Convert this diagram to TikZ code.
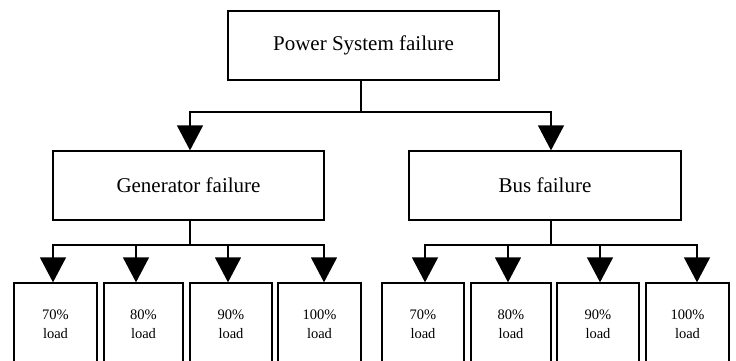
\documentclass[tikz,border=0pt]{standalone}
\usepackage{fontspec}
\setmainfont{Liberation Serif}
\usetikzlibrary{arrows.meta}

\tikzset{
  wire/.style={line width=1.3pt},
  feed/.style={wire, -{Triangle[width=26pt,length=25pt]}},
  bigbox/.style={draw, line width=1.3pt, minimum width=271pt, minimum height=69pt,
    inner sep=0pt, font=\fontsize{21}{25}\selectfont},
  loadbox/.style={draw, line width=1.3pt, minimum height=82pt, inner sep=0pt,
    align=center, font=\fontsize{14.5}{18.5}\selectfont},
}

\begin{document}
\begin{tikzpicture}[x=1pt, y=-1pt]
  \useasboundingbox (0,0) rectangle (736,360);
  \clip (0,0) rectangle (736,360);

  % upper levels
  \node[bigbox] (top) at (363.5,45.5) {Power System failure};
  \node[bigbox] (gen) at (188.5,185.5) {Generator failure};
  \node[bigbox, minimum width=272pt] (bus) at (545,185.5) {Bus failure};

  % load cases under the generator branch
  \node[loadbox, minimum width=83pt] (g1) at (55.5,324) {70\%\\load};
  \node[loadbox, minimum width=79pt] (g2) at (143.5,324) {80\%\\load};
  \node[loadbox, minimum width=82pt] (g3) at (231,324) {90\%\\load};
  \node[loadbox, minimum width=83pt] (g4) at (319.5,324) {100\%\\load};

  % load cases under the bus branch
  \node[loadbox, minimum width=82pt] (b1) at (423,324) {70\%\\load};
  \node[loadbox, minimum width=80pt] (b2) at (511,324) {80\%\\load};
  \node[loadbox, minimum width=82pt] (b3) at (598,324) {90\%\\load};
  \node[loadbox, minimum width=83pt] (b4) at (687.5,324) {100\%\\load};

  % junction points of the distribution lines
  \coordinate (j0) at (361,112);
  \coordinate (j1) at (190,245);
  \coordinate (j2) at (551,245);

  % top level to the two branches
  \draw[wire] (top.south -| j0) -- (j0);
  \draw[feed] (j0) -| ([xshift=1.5pt]gen.north);
  \draw[feed] (j0) -| ([xshift=6pt]bus.north);

  % generator branch
  \draw[wire] (gen.south -| j1) -- (j1);
  \draw[feed] (j1) -| ([xshift=-2.5pt]g1.north);
  \draw[feed] (j1) -| ([xshift=-7.5pt]g2.north);
  \draw[feed] (j1) -| ([xshift=-3pt]g3.north);
  \draw[feed] (j1) -| ([xshift=4.5pt]g4.north);

  % bus branch
  \draw[wire] (bus.south -| j2) -- (j2);
  \draw[feed] (j2) -| ([xshift=2pt]b1.north);
  \draw[feed] (j2) -| ([xshift=-3pt]b2.north);
  \draw[feed] (j2) -| ([xshift=2pt]b3.north);
  \draw[feed] (j2) -| ([xshift=9.5pt]b4.north);
\end{tikzpicture}
\end{document}
